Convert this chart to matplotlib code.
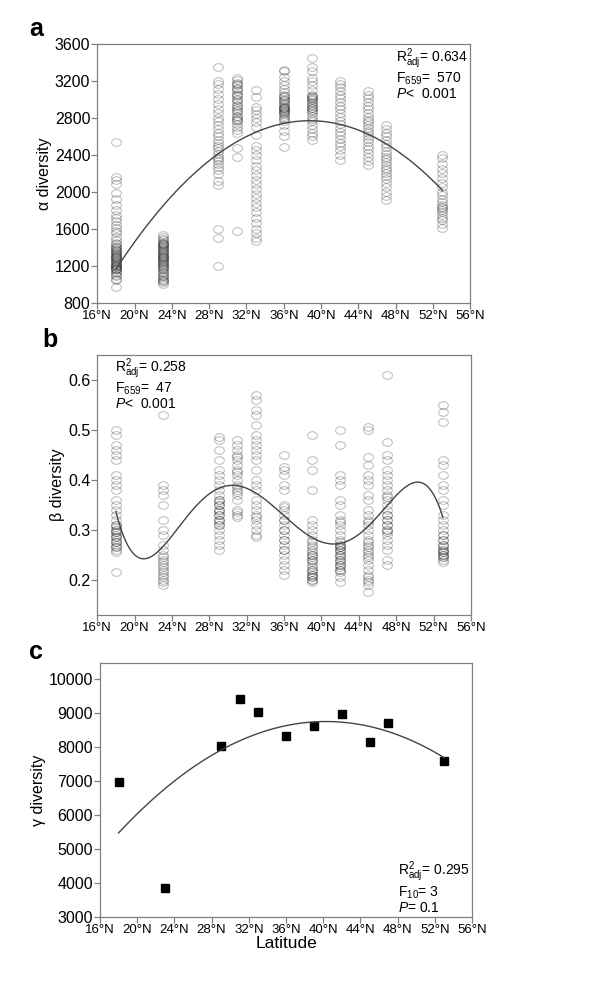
import numpy as np
import matplotlib
matplotlib.use("Agg")
import matplotlib.pyplot as plt
from matplotlib.path import Path
from matplotlib.ticker import MultipleLocator, FuncFormatter

plt.rcParams['font.family'] = ['Liberation Sans', 'DejaVu Sans']
plt.rcParams['mathtext.fontset'] = 'custom'
plt.rcParams['mathtext.rm'] = 'Liberation Sans'
plt.rcParams['mathtext.it'] = 'Liberation Sans:italic'

# sampling latitudes (degrees N)
lats = [18, 23, 29, 31, 33, 36, 39, 42, 45, 47, 53]

# alpha diversity per site (dense bands get more entries)
alpha = {
    18: [970, 1050, 1060, 1090, 1100, 1120, 1130, 1150, 1160, 1170, 1180, 1190, 1200,
         1200, 1210, 1220, 1230, 1240, 1250, 1260, 1270, 1280, 1290, 1300, 1310, 1320,
         1330, 1340, 1350, 1360, 1370, 1380, 1390, 1400, 1410, 1430, 1450, 1480, 1510,
         1550, 1580, 1610, 1640, 1680, 1720, 1750, 1800, 1860, 1920, 1990, 2080, 2130,
         2160, 2540],
    23: [1000, 1020, 1030, 1050, 1060, 1080, 1090, 1100, 1120, 1130, 1150, 1160, 1180,
         1190, 1200, 1210, 1220, 1230, 1240, 1250, 1260, 1270, 1280, 1290, 1300, 1310,
         1320, 1330, 1340, 1350, 1360, 1370, 1380, 1390, 1400, 1410, 1420, 1430, 1440,
         1450, 1460, 1480, 1490, 1510, 1530],
    29: [1200, 1500, 1600, 2070, 2120, 2190, 2230, 2270, 2300, 2330, 2350, 2380, 2410,
         2440, 2470, 2500, 2530, 2560, 2600, 2640, 2680, 2720, 2760, 2800, 2850, 2890,
         2950, 3000, 3060, 3110, 3160, 3200, 3350],
    31: [1580, 2380, 2470, 2640, 2670, 2700, 2730, 2760, 2780, 2790, 2810, 2820, 2850,
         2870, 2880, 2910, 2930, 2940, 2970, 2990, 3000, 3030, 3050, 3060, 3090, 3110,
         3120, 3150, 3170, 3180, 3210, 3230],
    33: [1470, 1500, 1550, 1600, 1660, 1720, 1780, 1830, 1880, 1930, 1980, 2030, 2080,
         2130, 2180, 2230, 2280, 2340, 2400, 2450, 2500, 2610, 2700, 2750, 2800, 2840,
         2880, 2920, 3020, 3100],
    36: [2480, 2600, 2660, 2720, 2760, 2790, 2800, 2820, 2840, 2850, 2860, 2870, 2880,
         2890, 2900, 2910, 2920, 2930, 2950, 2960, 2980, 2990, 3000, 3020, 3040, 3050,
         3080, 3110, 3150, 3200, 3240, 3300, 3320],
    39: [2560, 2600, 2640, 2680, 2720, 2760, 2790, 2820, 2850, 2870, 2880, 2900, 2910,
         2930, 2940, 2960, 2970, 2990, 3000, 3010, 3020, 3040, 3050, 3100, 3150, 3200,
         3230, 3300, 3350, 3450],
    42: [2340, 2400, 2450, 2490, 2530, 2570, 2610, 2650, 2690, 2730, 2770, 2810, 2850,
         2890, 2930, 2970, 3010, 3050, 3090, 3130, 3160, 3200],
    45: [2290, 2330, 2380, 2420, 2460, 2500, 2540, 2570, 2600, 2630, 2660, 2690, 2720,
         2750, 2780, 2810, 2850, 2890, 2930, 2970, 3010, 3050, 3090],
    47: [1910, 1950, 2000, 2050, 2100, 2140, 2170, 2200, 2230, 2260, 2290, 2320, 2350,
         2380, 2410, 2440, 2480, 2520, 2560, 2600, 2640, 2680, 2720],
    53: [1610, 1650, 1690, 1720, 1750, 1780, 1800, 1820, 1840, 1860, 1890, 1920, 1960,
         2000, 2050, 2100, 2150, 2200, 2250, 2300, 2360, 2400],
}

# beta diversity per site
beta = {
    18: [0.215, 0.255, 0.26, 0.265, 0.265, 0.27, 0.275, 0.275, 0.28, 0.285, 0.285,
         0.29, 0.295, 0.295, 0.30, 0.30, 0.305, 0.31, 0.31, 0.32, 0.33, 0.34, 0.35,
         0.36, 0.38, 0.39, 0.40, 0.41, 0.44, 0.45, 0.46, 0.47, 0.49, 0.50],
    23: [0.19, 0.195, 0.20, 0.205, 0.21, 0.215, 0.22, 0.225, 0.23, 0.235, 0.24, 0.245,
         0.25, 0.26, 0.27, 0.29, 0.30, 0.32, 0.35, 0.37, 0.38, 0.39, 0.53],
    29: [0.26, 0.27, 0.28, 0.29, 0.30, 0.31, 0.31, 0.315, 0.32, 0.32, 0.33, 0.33,
         0.335, 0.34, 0.34, 0.35, 0.35, 0.355, 0.36, 0.36, 0.37, 0.38, 0.39, 0.40,
         0.41, 0.42, 0.44, 0.46, 0.48, 0.485],
    31: [0.325, 0.33, 0.335, 0.34, 0.36, 0.37, 0.375, 0.38, 0.385, 0.39, 0.40, 0.41,
         0.415, 0.42, 0.43, 0.44, 0.445, 0.45, 0.46, 0.47, 0.48],
    33: [0.285, 0.29, 0.30, 0.31, 0.32, 0.325, 0.33, 0.34, 0.35, 0.36, 0.38, 0.39,
         0.40, 0.42, 0.44, 0.45, 0.46, 0.47, 0.48, 0.49, 0.51, 0.53, 0.54, 0.56, 0.57],
    36: [0.21, 0.22, 0.23, 0.24, 0.25, 0.26, 0.26, 0.27, 0.28, 0.28, 0.29, 0.30,
         0.30, 0.31, 0.32, 0.32, 0.33, 0.34, 0.345, 0.35, 0.38, 0.39, 0.41, 0.42,
         0.425, 0.45],
    39: [0.195, 0.20, 0.20, 0.205, 0.205, 0.21, 0.21, 0.215, 0.22, 0.22, 0.225, 0.23,
         0.235, 0.24, 0.24, 0.245, 0.25, 0.25, 0.255, 0.26, 0.265, 0.27, 0.275, 0.28,
         0.29, 0.30, 0.31, 0.32, 0.38, 0.42, 0.44, 0.49],
    42: [0.195, 0.205, 0.215, 0.22, 0.22, 0.225, 0.23, 0.23, 0.235, 0.24, 0.24, 0.245,
         0.25, 0.25, 0.255, 0.26, 0.26, 0.265, 0.265, 0.27, 0.27, 0.275, 0.28, 0.29,
         0.30, 0.31, 0.315, 0.32, 0.33, 0.35, 0.36, 0.39, 0.40, 0.41, 0.47, 0.50],
    45: [0.175, 0.19, 0.195, 0.20, 0.205, 0.21, 0.22, 0.23, 0.24, 0.245, 0.25, 0.255,
         0.26, 0.265, 0.27, 0.275, 0.28, 0.29, 0.30, 0.31, 0.315, 0.32, 0.33, 0.34,
         0.36, 0.37, 0.39, 0.40, 0.41, 0.43, 0.445, 0.50, 0.505],
    47: [0.23, 0.24, 0.26, 0.27, 0.28, 0.29, 0.295, 0.30, 0.30, 0.31, 0.31, 0.32,
         0.32, 0.33, 0.33, 0.34, 0.35, 0.36, 0.365, 0.37, 0.38, 0.39, 0.40, 0.41,
         0.42, 0.44, 0.45, 0.475, 0.61],
    53: [0.235, 0.24, 0.245, 0.245, 0.25, 0.25, 0.255, 0.255, 0.26, 0.26, 0.265,
         0.27, 0.27, 0.28, 0.28, 0.29, 0.29, 0.30, 0.31, 0.32, 0.33, 0.35, 0.36, 0.38,
         0.39, 0.41, 0.43, 0.44, 0.515, 0.535, 0.55],
}

# gamma diversity, one value per site (panel c)
gamma = [6970, 3850, 8040, 9400, 9020, 8320, 8610, 8960, 8140, 8700, 7580]

stats_a = [r'R$^{2}_{\rm adj}$= 0.634', r'F$_{659}$=  570', r'$P$<  0.001']
stats_b = [r'R$^{2}_{\rm adj}$= 0.258', r'F$_{659}$=  47', r'$P$<  0.001']
stats_c = [r'R$^{2}_{\rm adj}$= 0.295', r'F$_{10}$= 3', r'$P$= 0.1']

GRAY = '#808080'

# circles in the original are a bit wider than tall
_t = np.linspace(0, 2 * np.pi, 41)
ELLIPSE = Path(np.column_stack([np.cos(_t), 0.78 * np.sin(_t)]))


def flatten(d):
    xs, ys = [], []
    for k in lats:
        xs += [k] * len(d[k])
        ys += d[k]
    return np.array(xs, float), np.array(ys, float)


def style_axes(ax):
    for sp in ax.spines.values():
        sp.set_color(GRAY)
        sp.set_linewidth(0.9)
    ax.set_xlim(16, 56)
    ax.xaxis.set_major_locator(MultipleLocator(4))
    ax.xaxis.set_major_formatter(FuncFormatter(lambda v, p: f'{int(v)}°N'))
    ax.tick_params(axis='both', direction='out', length=4, width=0.9, color=GRAY)
    ax.tick_params(axis='x', labelsize=9.5, pad=1)
    ax.tick_params(axis='y', labelsize=11.5, pad=1)


def add_stats(ax, lines, x, y, va):
    # one text block so the three lines never collide
    ax.text(x, y, '\n'.join(lines), transform=ax.transAxes, fontsize=10,
            va=va, ha='left', linespacing=1.0)


fig = plt.figure(figsize=(6.0, 9.83), dpi=100)
xx = np.linspace(min(lats), max(lats), 200)

# ---- panel a
ax1 = fig.add_axes([0.162, 0.692, 0.622, 0.2635])
xa, ya = flatten(alpha)
ax1.plot(xa, ya, marker=ELLIPSE, ms=7, mfc='none', mec='black', mew=0.7,
         alpha=0.28, linestyle='none')
pa = np.polynomial.Polynomial.fit(xa, ya, 2)
ax1.plot(xx, pa(xx), color='#444444', lw=1.0)
ax1.set_ylim(800, 3600)
ax1.yaxis.set_major_locator(MultipleLocator(400))
ax1.set_ylabel('α diversity', fontsize=11.5, labelpad=2)
style_axes(ax1)
add_stats(ax1, stats_a, 0.80, 0.99, 'top')
fig.text(0.048, 0.970, 'a', fontsize=18, fontweight='bold', va='center')

# ---- panel b
ax2 = fig.add_axes([0.162, 0.3744, 0.623, 0.2645])
xb, yb = flatten(beta)
ax2.plot(xb, yb, marker=ELLIPSE, ms=7, mfc='none', mec='black', mew=0.7,
         alpha=0.28, linestyle='none')
pb = np.polynomial.Polynomial.fit(xb, yb, 5)
ax2.plot(xx, pb(xx), color='#444444', lw=1.0)
ax2.set_ylim(0.13, 0.65)
ax2.yaxis.set_major_locator(MultipleLocator(0.1))
ax2.yaxis.set_major_formatter(FuncFormatter(lambda v, p: f'{v:.1f}'))
ax2.set_ylabel('β diversity', fontsize=11.5, labelpad=2)
style_axes(ax2)
add_stats(ax2, stats_b, 0.048, 0.995, 'top')
fig.text(0.070, 0.654, 'b', fontsize=18, fontweight='bold', va='center')

# ---- panel c
ax3 = fig.add_axes([0.1667, 0.0671, 0.62, 0.2584])
ax3.plot(lats, gamma, 's', ms=6, color='black', linestyle='none')
pc = np.polynomial.Polynomial.fit(lats, gamma, 2)
ax3.plot(xx, pc(xx), color='#444444', lw=1.0)
ax3.set_ylim(3000, 10470)
ax3.yaxis.set_major_locator(MultipleLocator(1000))
ax3.set_ylabel('γ diversity', fontsize=11.5, labelpad=2)
ax3.set_xlabel('Latitude', fontsize=12.5, labelpad=0)
style_axes(ax3)
add_stats(ax3, stats_c, 0.80, 0.01, 'bottom')
fig.text(0.048, 0.337, 'c', fontsize=18, fontweight='bold', va='center')

fig.savefig('out.png', dpi=100)
